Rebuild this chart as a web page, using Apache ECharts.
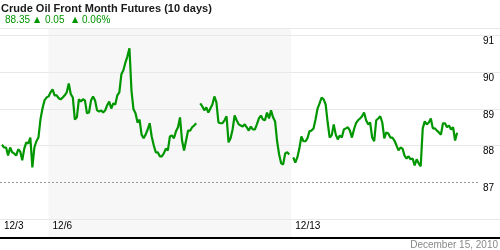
<!DOCTYPE html>
<html>
<head>
<meta charset="utf-8">
<script src="https://cdn.jsdelivr.net/npm/echarts@6/dist/echarts.min.js"></script>
<style>html,body{margin:0;padding:0;background:#fff}#c{width:500px;height:250px}</style>
</head>
<body>
<div id="c"></div>
<script>
// hourly samples, first sample at hour 1 after the 12/3 open
var startHour = 1;
var prices = [
88.03,87.95,87.95,87.73,87.95,87.82,87.79,87.73,87.90,87.84,
87.60,87.92,88.09,88.06,88.22,87.41,87.95,88.12,88.22,88.71,
89.01,89.23,89.31,89.34,89.45,89.53,89.37,89.37,89.29,89.26,
89.31,89.37,89.45,89.69,89.40,89.31,88.71,88.77,89.26,89.20,
89.26,89.23,88.88,88.90,89.23,89.34,89.23,88.96,88.93,88.96,
88.90,88.96,89.10,89.20,89.01,89.15,89.12,89.37,89.45,89.94,
90.05,90.26,90.43,90.65,89.50,88.99,88.88,88.63,88.71,88.30,
88.20,88.30,88.44,88.61,88.25,88.01,87.82,87.82,87.71,87.71,
87.79,87.92,87.87,88.25,88.28,88.20,88.39,88.50,88.77,88.14,
87.87,88.14,88.41,88.41,88.50,88.55,88.61,null,89.15,89.07,
88.96,89.04,88.90,89.01,89.12,89.34,89.18,88.63,88.61,88.61,
88.69,88.80,88.09,88.20,88.44,88.82,88.69,88.58,88.55,88.52,
88.58,88.50,88.41,88.52,88.44,88.44,88.58,88.74,88.82,88.71,
88.69,88.90,88.74,88.96,88.77,88.66,88.12,87.76,87.52,87.49,
87.79,87.82,87.76,null,87.68,87.54,87.68,87.92,88.25,88.12,
88.12,88.20,88.39,88.41,88.47,88.71,89.01,89.15,89.31,89.26,
89.12,88.63,88.22,88.28,88.58,88.30,88.17,88.28,88.22,88.44,
88.47,88.50,88.41,88.22,88.44,88.61,88.69,88.74,88.80,88.90,
88.69,88.58,88.63,88.22,88.12,88.69,88.74,88.80,88.63,88.20,
88.36,88.33,88.22,88.22,88.14,88.01,87.87,87.95,87.92,87.73,
87.65,87.71,87.63,87.65,87.46,87.63,87.52,87.44,88.47,88.66,
88.58,88.63,88.74,88.47,88.47,88.41,88.36,88.30,88.61,88.61,
88.50,88.55,88.44,88.50,88.14,88.35
];
var tickHours = [0, 24, 144];
var tickLabels = ['12/3', '12/6', '12/13'];
var shadeRange = [24, 144];
var prevClose = 87;
var yLabels = [87, 88, 89, 90, 91];
var title = 'Crude Oil Front Month Futures (10 days)';
var lastPrice = '88.35', change = '0.05', changePct = '0.06%';
var dateText = 'December 15, 2010';

var data = prices.map(function (p, i) { return [startHour + i, p == null ? '-' : p]; });
var green = '#009600';
var font = 'Liberation Sans, Arial, sans-serif';

var chart = echarts.init(document.getElementById('c'), null, {renderer: 'canvas'});
chart.setOption({
  animation: false,
  backgroundColor: '#fff',
  grid: {left: 0, right: 0, top: 28, bottom: 12.4, outerBoundsMode: 'none', containLabel: false},
  xAxis: {
    type: 'value', min: 0, max: 247.2, interval: 24, z: 2,
    axisLine: {show: true, lineStyle: {color: '#000', width: 2}},
    axisTick: {show: false},
    splitLine: {show: false},
    axisLabel: {
      inside: true, margin: 6, align: 'left', padding: [0, 0, 0, 4],
      color: '#000', fontSize: 10, fontFamily: font,
      hideOverlap: false, showMinLabel: true, showMaxLabel: false,
      formatter: function (v) { var k = tickHours.indexOf(Math.round(v)); return k >= 0 ? tickLabels[k] : ''; }
    }
  },
  yAxis: {
    type: 'value', min: 85.5, max: 91.2, position: 'right', z: 2,
    axisLine: {show: false}, axisTick: {show: false},
    splitLine: {show: true, lineStyle: {width: 1, color: ['#e8e8e8', '#e8e8e8', 'rgba(0,0,0,0)', '#e8e8e8', '#e8e8e8', '#e8e8e8', '#e8e8e8', '#e8e8e8']}},
    axisLabel: {
      inside: true, margin: 6, color: '#000', fontSize: 10, fontFamily: font,
      verticalAlign: 'top', lineHeight: 12,
      showMinLabel: false, showMaxLabel: false,
      formatter: function (v) { return yLabels.indexOf(v) >= 0 ? String(v) : ''; }
    }
  },
  series: [{
    type: 'line', data: data, z: 3, showSymbol: false, connectNulls: false,
    lineStyle: {color: green, width: 2.2}, itemStyle: {color: green},
    markArea: {silent: true, itemStyle: {color: '#f7f7f7'}, data: [[{xAxis: shadeRange[0]}, {xAxis: shadeRange[1]}]]},
    markLine: {
      silent: true, symbol: 'none', label: {show: false},
      lineStyle: {color: '#999', type: [2, 2], width: 1},
      data: [[{coord: [0, prevClose]}, {coord: [237.3, prevClose]}]]
    }
  }],
  graphic: [
    {type: 'text', left: 1, top: 3, style: {text: title, font: 'bold 11px ' + font, fill: '#1a1a1a'}},
    {type: 'text', left: 5, top: 15, style: {text: lastPrice, font: '10px ' + font, fill: green}},
    {type: 'text', left: 34, top: 16, style: {text: '\u25B2', font: '8px DejaVu Sans', fill: green}},
    {type: 'text', left: 45, top: 15, style: {text: change, font: '10px ' + font, fill: green}},
    {type: 'text', left: 72, top: 16, style: {text: '\u25B2', font: '8px DejaVu Sans', fill: green}},
    {type: 'text', left: 82, top: 15, style: {text: changePct, font: '10px ' + font, fill: green}},
    {type: 'text', right: 2, top: 240, style: {text: dateText, font: '10px ' + font, fill: '#888'}}
  ]
});
</script>
</body>
</html>
